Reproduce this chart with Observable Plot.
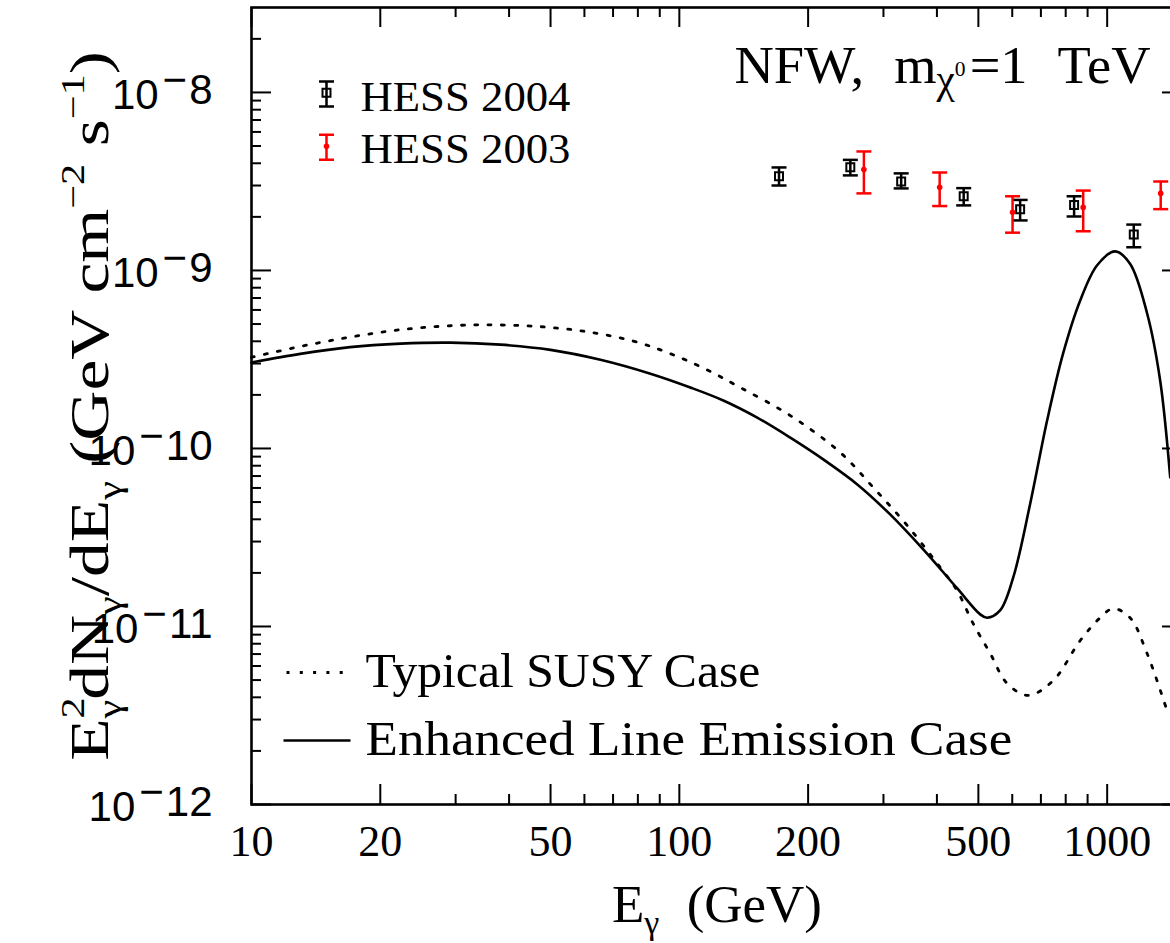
<!DOCTYPE html>
<html><head><meta charset="utf-8">
<script src="https://cdn.jsdelivr.net/npm/d3@7"></script>
<script src="https://cdn.jsdelivr.net/npm/@observablehq/plot@0.6"></script>
<style>
html,body{margin:0;padding:0;background:#fff;overflow:hidden}
#wrap{width:1170px;height:943px;overflow:hidden;position:relative;background:#fff}
#wrap svg{max-width:none !important;display:block}
#wrap text{white-space:pre}
</style></head><body><div id="wrap"></div>
<script>
// ---- data ----
const susyE    = [10, 13.0, 17.0, 22.3, 29.2, 34.8, 45.6, 59.7, 78.1, 93.8, 113.8, 138.8, 181.7, 237.7, 284, 341, 407, 446, 486, 533, 584, 654, 748, 865, 963, 1033, 1131, 1240, 1380];
const susyFlux = [3.25e-10, 3.74e-10, 4.22e-10, 4.65e-10, 4.89e-10, 4.95e-10, 4.86e-10, 4.56e-10, 4.01e-10, 3.46e-10, 2.83e-10, 2.20e-10, 1.53e-10, 9.50e-11, 6.04e-11, 3.69e-11, 2.15e-11, 1.59e-11, 1.04e-11, 7.05e-12, 4.78e-12, 4.10e-12, 4.97e-12, 8.34e-12, 1.12e-11, 1.26e-11, 1.12e-11, 7.05e-12, 3.37e-12];

const lineE    = [10, 13.0, 17.0, 22.3, 29.2, 38.2, 50.0, 65.4, 85.6, 106.1, 126.7, 152.1, 181.7, 217, 260.6, 311, 371.6, 446.3, 505, 524, 562, 603, 661, 724, 789, 865, 947.5, 1044, 1131, 1240, 1330, 1404];
const lineFlux = [3.04e-10, 3.40e-10, 3.71e-10, 3.88e-10, 3.93e-10, 3.83e-10, 3.58e-10, 3.15e-10, 2.63e-10, 2.20e-10, 1.86e-10, 1.49e-10, 1.15e-10, 8.68e-11, 6.28e-11, 4.26e-11, 2.71e-11, 1.635e-11, 1.17e-11, 1.12e-11, 1.23e-11, 1.88e-11, 4.91e-11, 1.44e-10, 3.42e-10, 6.78e-10, 1.07e-9, 1.28e-9, 1.09e-9, 5.73e-10, 2.41e-10, 6.87e-11];

const hess04E  = [171, 251, 330, 462, 626, 837, 1154];
const hess04F  = [3.38e-9, 3.80e-9, 3.16e-9, 2.61e-9, 2.21e-9, 2.33e-9, 1.59e-9];
const hess04Lo = [3.00e-9, 3.42e-9, 2.89e-9, 2.32e-9, 1.91e-9, 2.01e-9, 1.35e-9];
const hess04Hi = [3.79e-9, 4.18e-9, 3.51e-9, 2.90e-9, 2.49e-9, 2.61e-9, 1.81e-9];

const hess03E  = [270, 406, 601, 879, 1334];
const hess03F  = [3.69e-9, 2.93e-9, 2.12e-9, 2.26e-9, 2.71e-9];
const hess03Lo = [2.71e-9, 2.30e-9, 1.63e-9, 1.66e-9, 2.21e-9];
const hess03Hi = [4.66e-9, 3.55e-9, 2.61e-9, 2.81e-9, 3.16e-9];

const xLabels = [10, 20, 50, 100, 200, 500, 1000];
const xMinor  = [30, 40, 60, 70, 80, 90, 300, 400, 600, 700, 800, 900];
const yMajor  = [1e-12, 1e-11, 1e-10, 1e-9, 1e-8];
const yExps   = [-12, -11, -10, -9, -8];
const yMinor  = [2e-12, 3e-12, 4e-12, 5e-12, 6e-12, 7e-12, 8e-12, 9e-12,
                 2e-11, 3e-11, 4e-11, 5e-11, 6e-11, 7e-11, 8e-11, 9e-11,
                 2e-10, 3e-10, 4e-10, 5e-10, 6e-10, 7e-10, 8e-10, 9e-10,
                 2e-9, 3e-9, 4e-9, 5e-9, 6e-9, 7e-9, 8e-9, 9e-9, 2e-8];

const titleStr  = "NFW, mχ0=1 TeV";
const xTitleStr = "Eγ (GeV)";
const yTitleStr = "E2γdNγ/dEγ (GeV cm−2 s−1)";
const leg04 = "HESS 2004", leg03 = "HESS 2003";
const legSusy = "Typical SUSY Case", legLine = "Enhanced Line Emission Case";

// ---- tables ----
const susy = susyE.map((e, i) => ({e, f: susyFlux[i]}));
const enh  = lineE.map((e, i) => ({e, f: lineFlux[i]}));
const hess04 = hess04E.map((e, i) => ({e, f: hess04F[i], lo: hess04Lo[i], hi: hess04Hi[i]}));
const hess03 = hess03E.map((e, i) => ({e, f: hess03F[i], lo: hess03Lo[i], hi: hess03Hi[i]}));
const yLab = yMajor.map((v, i) => ({v, label: "10^" + yExps[i]}));

// ---- layout ----
const W = 1190, H = 943, mL = 251, mR = 8, mT = 7, mB = 139;
const plotW = W - mL - mR, plotH = H - mT - mB;
const majorLen = 20, minorLen = 10;
const serif = "Liberation Serif", sans = "Liberation Sans";
const red = "#ff0000";

const capSym = (w) => ({draw(c) { c.moveTo(-w, 0); c.lineTo(w, 0); }});
const errSym = (h, w) => ({draw(c) {
  c.moveTo(0, -h); c.lineTo(0, h);
  c.moveTo(-w, -h); c.lineTo(w, -h);
  c.moveTo(-w, h); c.lineTo(w, h);
}});
const hline = (w) => ({draw(c) { c.moveTo(-w, 0); c.lineTo(w, 0); }});
const dotDash = "3,10.3";

const tk = {stroke: "black", strokeWidth: 2};
const txt = (o) => ({lineAnchor: "middle", fill: "black", ...o});

const plot = Plot.plot({
  width: W, height: H,
  marginLeft: mL, marginRight: mR, marginTop: mT, marginBottom: mB,
  style: {background: "white", maxWidth: "none"},
  x: {type: "log", domain: [10, 1500], axis: null},
  y: {type: "log", domain: [1e-12, 3e-8], axis: null},
  marks: [
    // inward ticks on all four sides
    Plot.ruleX(xLabels, {...tk, insetTop: plotH - majorLen}),
    Plot.ruleX(xLabels, {...tk, insetBottom: plotH - majorLen}),
    Plot.ruleX(xMinor, {...tk, insetTop: plotH - minorLen}),
    Plot.ruleX(xMinor, {...tk, insetBottom: plotH - minorLen}),
    Plot.ruleY(yMajor, {...tk, insetRight: plotW - majorLen}),
    Plot.ruleY(yMajor, {...tk, insetLeft: plotW - majorLen}),
    Plot.ruleY(yMinor, {...tk, insetRight: plotW - minorLen}),
    Plot.ruleY(yMinor, {...tk, insetLeft: plotW - minorLen}),
    Plot.frame({stroke: "black", strokeWidth: 2.6}),

    // curves
    Plot.line(susy, {x: "e", y: "f", curve: "catmull-rom", stroke: "black", strokeWidth: 2.8, strokeDasharray: dotDash}),
    Plot.line(enh, {x: "e", y: "f", curve: "catmull-rom", stroke: "black", strokeWidth: 2.6}),

    // HESS 2004
    Plot.ruleX(hess04, {x: "e", y1: "lo", y2: "hi", stroke: "black", strokeWidth: 2.5}),
    Plot.dot(hess04, {x: "e", y: "lo", symbol: capSym(7.5), fill: "none", stroke: "black", strokeWidth: 2.5}),
    Plot.dot(hess04, {x: "e", y: "hi", symbol: capSym(7.5), fill: "none", stroke: "black", strokeWidth: 2.5}),
    Plot.dot(hess04, {x: "e", y: "f", symbol: "square", r: 4.5, fill: "none", stroke: "black", strokeWidth: 2}),

    // HESS 2003
    Plot.ruleX(hess03, {x: "e", y1: "lo", y2: "hi", stroke: red, strokeWidth: 2.5}),
    Plot.dot(hess03, {x: "e", y: "lo", symbol: capSym(7.5), fill: "none", stroke: red, strokeWidth: 2.5}),
    Plot.dot(hess03, {x: "e", y: "hi", symbol: capSym(7.5), fill: "none", stroke: red, strokeWidth: 2.5}),
    Plot.dot(hess03, {x: "e", y: "f", r: 2.8, fill: red, stroke: "none"}),

    // tick labels
    Plot.text(xLabels, txt({x: d => d, text: d => String(d), frameAnchor: "bottom", dy: 37, textAnchor: "middle", fontFamily: serif, fontSize: 44})),
    Plot.text(yLab, txt({y: "v", text: "label", frameAnchor: "left", dx: -39, textAnchor: "end", fontFamily: sans, fontSize: 42})),

    // axis titles
    Plot.text([xTitleStr], txt({text: d => d, frameAnchor: "bottom", dy: 101, textAnchor: "middle", fontFamily: serif, fontSize: 53})),
    Plot.text([yTitleStr], txt({text: d => d, frameAnchor: "left", dx: -161, rotate: -90, textAnchor: "middle", fontFamily: serif, fontSize: 54})),

    // title
    Plot.text([titleStr], txt({text: d => d, frameAnchor: "top-right", dx: -32, dy: 59, textAnchor: "end", fontFamily: serif, fontSize: 53})),

    // data legend (top left)
    Plot.dot([0], {frameAnchor: "top-left", dx: 75, dy: 86.5, symbol: errSym(12.5, 7.5), fill: "none", stroke: "black", strokeWidth: 2.5}),
    Plot.dot([0], {frameAnchor: "top-left", dx: 75, dy: 85.3, symbol: "square", r: 4.5, fill: "none", stroke: "black", strokeWidth: 2}),
    Plot.dot([0], {frameAnchor: "top-left", dx: 75, dy: 139.8, symbol: errSym(12.5, 7.5), fill: "none", stroke: red, strokeWidth: 2.5}),
    Plot.dot([0], {frameAnchor: "top-left", dx: 75, dy: 138.7, r: 2.8, fill: red, stroke: "none"}),
    Plot.text([leg04], txt({text: d => d, frameAnchor: "top-left", dx: 109, dy: 89.6, textAnchor: "start", fontFamily: serif, fontSize: 42})),
    Plot.text([leg03], txt({text: d => d, frameAnchor: "top-left", dx: 109, dy: 141.6, textAnchor: "start", fontFamily: serif, fontSize: 42})),

    // curve legend (bottom left)
    Plot.dot([0], {frameAnchor: "bottom-left", dx: 64, dy: -132, symbol: hline(29), fill: "none", stroke: "black", strokeWidth: 2.8, strokeDasharray: dotDash}),
    Plot.dot([0], {frameAnchor: "bottom-left", dx: 65.5, dy: -64, symbol: hline(33.5), fill: "none", stroke: "black", strokeWidth: 2.6}),
    Plot.text([legSusy], txt({text: d => d, frameAnchor: "bottom-left", dx: 114, dy: -133, textAnchor: "start", fontFamily: serif, fontSize: 48})),
    Plot.text([legLine], txt({text: d => d, frameAnchor: "bottom-left", dx: 114, dy: -65, textAnchor: "start", fontFamily: serif, fontSize: 48}))
  ]
});

document.getElementById("wrap").appendChild(plot);

// ---- rich text (sub/superscripts) and width fitting ----
const NS = "http://www.w3.org/2000/svg";
function rich(el, parts) {
  el.textContent = "";
  for (const p of parts) {
    const t = document.createElementNS(NS, "tspan");
    t.textContent = p.t;
    if (p.dx != null) t.setAttribute("dx", p.dx);
    if (p.dy != null) t.setAttribute("dy", p.dy);
    if (p.size != null) t.setAttribute("font-size", p.size);
    el.appendChild(t);
  }
}
function fit(el, target) {
  const w = el.getBBox().width;
  if (w > 0) el.setAttribute("transform", (el.getAttribute("transform") || "") + ` scale(${target / w},1)`);
}
const texts = Array.from(plot.querySelectorAll("text"));
const byText = (s) => texts.find(t => t.textContent === s);

for (const t of texts) {
  const m = /^10\^-(\d+)$/.exec(t.textContent);
  if (m) rich(t, [{t: "10", dy: 3}, {t: "−", dx: 4, dy: -15}, {t: m[1], dx: 2, dy: 10}]);
}

const tEl = byText(titleStr);
rich(tEl, [{t: "NFW,"}, {t: " m", dx: 16}, {t: "χ", size: 40, dy: 10}, {t: "0", size: 21, dy: -17}, {t: "=1", dx: 4, dy: 7}, {t: " TeV", dx: 16}]);
fit(tEl, 416);

const xt = byText(xTitleStr);
rich(xt, [{t: "E"}, {t: "γ", size: 34, dy: 12}, {t: " (GeV)", dx: 14, dy: -12}]);

const yt = byText(yTitleStr);
rich(yt, [{t: "E"}, {t: "2", size: 33, dy: -24}, {t: "γ", size: 33, dx: -16.5, dy: 37},
          {t: "dN", dy: -13}, {t: "γ", size: 33, dy: 13}, {t: "/dE", dy: -13}, {t: "γ", size: 33, dy: 13},
          {t: " (GeV cm", dy: -13}, {t: "−2", size: 33, dy: -24}, {t: " s", dy: 24},
          {t: "−1", size: 33, dy: -24}, {t: ")", dy: 24}]);
fit(yt, 710);

fit(byText(leg04), 210);
fit(byText(leg03), 210);
fit(byText(legSusy), 395);
fit(byText(legLine), 647);
</script>
</body></html>
